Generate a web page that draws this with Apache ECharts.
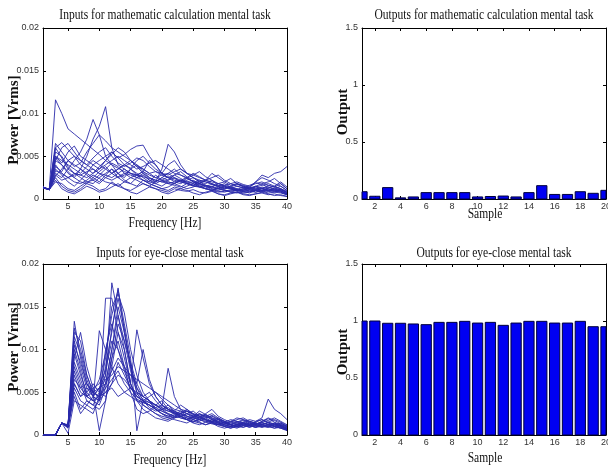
<!DOCTYPE html>
<html><head><meta charset="utf-8">
<script src="https://cdn.jsdelivr.net/npm/echarts@6/dist/echarts.min.js"></script>
<style>html,body{margin:0;padding:0;background:#fff}#c{width:608px;height:467px}</style>
</head><body><div id="c"></div>
<script>
// ---- data ----
const FREQ = [1,2,3,4,5,6,7,8,9,10,11,12,13,14,15,16,17,18,19,20,21,22,23,24,25,26,27,28,29,30,31,32,33,34,35,36,37,38,39,40];
const SAMPLES = [1,2,3,4,5,6,7,8,9,10,11,12,13,14,15,16,17,18,19,20];
const FREQ_TICKS = [5,10,15,20,25,30,35,40];
const SAMPLE_TICKS = [2,4,6,8,10,12,14,16,18,20];
const UNIT = 1e-4; // input powers below are written in units of 0.0001 Vrms

const MATH_INPUTS = [
 [14,11,116,100,82,76,70,64,58,52,45,40,36,32,30,28,26,24,22,20,22,25,20,18,16,18,15,13,12,14,12,10,11,13,12,10,9,11,10,6],
 [14,11,40,30,25,28,35,50,70,85,108,60,40,35,30,28,32,25,22,20,18,20,22,18,15,14,16,12,10,12,14,11,9,10,12,13,10,9,8,5],
 [13,11,30,25,35,45,55,70,93,75,50,40,30,25,35,30,25,20,28,22,18,16,14,18,20,16,12,10,14,11,8,10,12,9,8,10,11,9,12,7],
 [14,11,50,45,40,35,30,38,45,40,35,30,35,40,45,38,30,25,20,35,64,55,40,30,25,20,18,22,16,14,12,15,13,11,10,12,14,11,9,6],
 [14,11,65,55,45,38,42,55,65,75,68,60,55,50,45,40,35,30,32,28,25,22,20,24,21,18,15,17,14,12,13,10,12,14,11,9,12,10,11,8],
 [13,11,45,40,30,25,35,30,40,45,50,55,48,52,58,62,63,50,40,30,25,28,24,20,22,18,16,14,18,15,13,11,10,12,14,12,10,13,11,7],
 [14,11,60,48,35,30,28,25,30,35,40,45,50,45,40,35,38,42,45,40,35,30,28,25,30,26,22,20,18,16,14,17,15,13,20,25,22,18,15,10],
 [14,11,25,15,10,8,12,18,15,10,12,20,15,12,10,14,18,15,12,10,8,12,10,9,11,8,7,9,6,5,7,8,6,5,6,7,5,6,4,3],
 [13,11,35,28,20,15,22,30,25,20,28,35,30,22,18,25,30,22,18,15,20,18,15,12,14,17,14,11,9,8,10,12,9,7,10,12,9,8,7,5],
 [14,11,55,50,38,30,25,20,22,28,35,42,38,30,25,28,32,45,40,30,25,20,18,22,25,20,16,14,12,10,9,11,14,12,10,8,10,12,9,6],
 [14,11,28,22,25,30,28,32,35,30,25,22,26,30,28,25,22,20,18,22,26,24,20,18,16,20,22,18,15,13,15,18,16,14,20,28,25,30,32,38],
 [14,11,20,18,12,10,15,20,18,25,30,35,25,20,18,15,22,18,15,12,10,14,12,15,18,14,12,10,8,9,11,10,8,9,11,14,12,10,8,5],
 [13,11,48,40,32,25,20,18,25,32,38,30,25,28,35,40,32,28,25,22,20,18,22,19,16,14,12,15,12,10,8,7,9,11,8,10,13,15,12,9],
 [14,11,38,32,45,50,40,35,30,38,45,52,60,55,45,38,35,30,25,28,30,25,22,20,18,22,20,17,15,18,14,12,10,13,15,12,16,14,12,8],
 [14,11,33,30,25,20,18,22,28,24,20,18,15,20,25,22,18,15,20,25,22,28,32,26,20,18,22,30,25,20,16,18,14,12,15,18,20,24,18,12],
 [13,11,45,60,65,55,45,40,35,30,28,25,30,35,30,25,28,22,20,25,30,35,28,24,28,32,26,22,18,20,24,18,15,12,14,16,18,15,20,14],
 [14,11,27,35,45,40,35,28,22,18,25,30,35,40,35,28,22,18,15,12,14,18,22,25,20,15,12,10,12,15,12,9,7,8,10,9,7,8,10,6],
 [14,11,60,66,58,50,45,40,48,55,60,50,42,38,42,48,45,38,32,30,28,32,35,30,25,22,20,18,15,16,18,15,13,16,19,17,14,12,15,10],
 [13,11,22,12,8,6,10,15,12,8,10,14,18,12,8,6,10,14,12,8,6,9,12,10,7,5,8,10,6,4,6,8,5,4,6,8,6,4,5,3],
 [14,11,50,42,55,62,50,45,40,35,45,55,48,40,36,45,50,42,35,30,40,45,35,30,28,25,22,25,28,22,18,20,17,15,18,20,16,14,18,12]
];

const EYE_INPUTS = [
 [0,0,0,14,10,133,90,60,45,55,70,178,140,100,60,45,40,35,30,28,25,22,20,18,22,25,20,16,14,12,10,12,14,11,9,12,14,10,8,6],
 [0,0,0,14,10,120,110,70,50,45,80,120,172,120,80,55,40,32,28,30,35,28,22,20,18,16,20,22,18,14,12,10,13,16,14,12,10,13,11,8],
 [0,0,0,14,11,100,75,45,40,122,100,80,60,50,45,40,38,35,30,25,22,20,25,28,24,20,18,15,12,10,14,16,13,11,9,10,12,14,10,7],
 [0,0,0,14,9,90,120,80,55,40,160,160,120,90,60,40,35,30,25,20,18,22,25,20,16,14,12,15,18,14,10,8,11,14,12,10,9,12,10,6],
 [0,0,0,14,10,80,60,40,35,50,90,150,165,143,100,70,50,40,35,30,28,25,22,25,28,22,18,16,20,16,12,14,17,15,12,16,20,17,13,9],
 [0,0,0,14,12,70,50,45,55,60,75,110,100,80,60,123,90,60,45,35,30,26,22,18,20,24,22,18,15,12,16,14,12,10,13,15,12,10,14,10],
 [0,0,0,14,8,60,45,50,40,35,55,90,130,110,85,60,45,50,40,32,78,45,30,25,22,28,24,20,16,14,12,10,14,12,16,18,15,12,10,7],
 [0,0,0,14,10,55,40,35,45,55,65,70,80,75,70,65,60,55,50,45,40,35,30,28,25,22,24,20,18,16,14,12,15,18,16,20,42,30,25,18],
 [0,0,0,14,11,110,80,55,45,40,60,100,150,120,80,50,35,30,25,22,20,24,28,22,18,15,12,14,10,8,10,12,9,11,14,12,10,8,11,7],
 [0,0,0,14,10,95,70,50,60,50,45,60,85,70,55,45,40,45,50,42,35,30,28,25,22,20,25,30,22,18,15,18,20,16,13,15,17,20,16,12],
 [0,0,0,14,9,50,30,40,35,30,40,80,120,100,60,40,30,25,20,18,16,20,22,18,14,12,15,18,14,10,8,10,12,9,11,14,12,10,8,5],
 [0,0,0,14,10,65,55,60,50,45,50,55,45,50,55,50,45,40,35,30,32,28,25,22,20,18,16,14,12,15,12,10,13,11,9,12,10,8,9,6],
 [0,0,0,14,11,125,100,70,50,5,40,90,110,80,50,30,25,28,35,40,30,25,20,18,15,18,22,25,20,16,12,9,11,14,12,9,11,14,12,8],
 [0,0,0,14,10,85,65,45,50,65,95,140,170,130,90,5,40,35,30,25,20,18,16,14,18,22,18,15,12,10,8,11,14,12,15,18,14,11,9,6],
 [0,0,0,14,10,45,25,35,30,40,50,60,70,65,55,48,42,38,35,32,28,26,24,22,20,25,22,18,16,14,12,15,18,16,14,12,15,18,15,11],
 [0,0,0,14,9,105,85,60,50,45,100,130,100,75,55,45,40,38,32,28,24,20,22,25,20,18,15,13,12,15,18,16,14,12,10,12,15,13,11,8],
 [0,0,0,14,10,75,55,45,40,45,55,65,75,60,50,42,38,35,32,35,30,27,25,28,22,18,20,23,19,15,12,10,9,12,14,11,9,12,14,10],
 [0,0,0,14,11,60,45,55,50,55,60,75,90,80,70,60,100,65,45,35,30,28,35,30,25,22,18,16,14,12,10,13,11,9,12,14,12,10,12,7],
 [0,0,0,14,10,115,95,65,45,40,70,125,160,125,80,55,45,40,35,30,25,22,26,30,24,20,17,15,13,11,9,12,15,13,11,9,12,10,8,6],
 [0,0,0,14,2,40,35,30,25,45,60,100,140,110,75,50,45,40,30,25,22,26,22,18,15,20,23,19,15,13,16,20,18,14,12,16,19,15,12,10]
];

const MATH_OUTPUTS = [0.064,0.024,0.1,0.01,0.018,0.056,0.056,0.056,0.056,0.018,0.022,0.026,0.018,0.056,0.117,0.04,0.04,0.064,0.05,0.076];
const EYE_OUTPUTS = [1.0,1.0,0.98,0.98,0.974,0.968,0.988,0.988,0.997,0.982,0.988,0.962,0.982,0.997,0.997,0.982,0.982,0.997,0.95,0.95];

const TITLES = ['Inputs for mathematic calculation mental task','Outputs for mathematic calculation mental task','Inputs for eye-close mental task','Outputs for eye-close mental task'];

// ---- chart ----
const chart = echarts.init(document.getElementById('c'), null, {renderer:'canvas'});
const grids = [
  {left:43, top:28, width:244, height:171, outerBoundsMode:'none', containLabel:false},
  {left:362, top:28, width:244, height:171, outerBoundsMode:'none', containLabel:false},
  {left:43, top:264, width:244, height:171, outerBoundsMode:'none', containLabel:false},
  {left:362, top:264, width:244, height:171, outerBoundsMode:'none', containLabel:false}
];
const tickFont = {fontFamily:"'Liberation Sans Narrow','Arial Narrow','Liberation Sans',Arial,sans-serif", fontSize:9, color:'#333'};
const axLine = {onZero:false, lineStyle:{color:'#000', width:1}};

function xAx(g, isLine, pos) {
  const ticks = isLine ? FREQ_TICKS : SAMPLE_TICKS;
  return {type:'value', gridIndex:g, position:pos, min:1, max:isLine?40:20,
    axisLine:axLine,
    axisTick:{inside:true, length:3, customValues:ticks, lineStyle:{color:'#000'}},
    axisLabel:Object.assign({show:pos==='bottom', customValues:ticks, margin:3, hideOverlap:false}, tickFont),
    splitLine:{show:false}};
}
function yAx(g, isLine, pos) {
  return {type:'value', gridIndex:g, position:pos, min:0, max:isLine?0.02:1.5, interval:isLine?0.005:0.5,
    axisLine:axLine,
    axisTick:{inside:true, length:3, lineStyle:{color:'#000'}},
    axisLabel:Object.assign({show:pos==='left', margin:4}, tickFont),
    splitLine:{show:false}};
}
const isLineGrid = [true,false,true,false];
const xAxis = [], yAxis = [];
for (let g=0; g<4; g++) { xAxis.push(xAx(g,isLineGrid[g],'bottom')); yAxis.push(yAx(g,isLineGrid[g],'left')); }
for (let g=0; g<4; g++) { xAxis.push(xAx(g,isLineGrid[g],'top')); yAxis.push(yAx(g,isLineGrid[g],'right')); }

const series = [];
function addLines(rows, g) {
  rows.forEach(row => series.push({type:'line', xAxisIndex:g, yAxisIndex:g, symbol:'none', silent:true,
    data: row.map((v,j)=>[FREQ[j], v*UNIT]), lineStyle:{color:'#2a2aaa', width:0.9}}));
}
const BAR_HALF = 0.4; // bar half-width in sample units (MATLAB default bar width 0.8)
function barItem(params, api) {
  const x = api.value(0), y = api.value(1);
  const p0 = api.coord([x - BAR_HALF, y]);
  const p1 = api.coord([x + BAR_HALF, 0]);
  const cs = params.coordSys;
  const rect = echarts.graphic.clipRectByRect(
    {x:p0[0], y:p0[1], width:p1[0]-p0[0], height:p1[1]-p0[1]},
    {x:cs.x, y:cs.y, width:cs.width, height:cs.height});
  return rect && {type:'rect', shape:rect, style:{fill:'#0000f2', stroke:'#00003c', lineWidth:1}};
}
function addBars(vals, g) {
  series.push({type:'custom', xAxisIndex:g, yAxisIndex:g, silent:true, renderItem:barItem,
    encode:{x:0, y:1},
    data: vals.map((v,j)=>[SAMPLES[j], v])});
}
addLines(MATH_INPUTS, 0); addBars(MATH_OUTPUTS, 1); addLines(EYE_INPUTS, 2); addBars(EYE_OUTPUTS, 3);

const serif = '"Liberation Serif","Times New Roman",serif';
function htext(t, x, y) {
  return {type:'text', x:x, y:y, scaleX:0.77, silent:true,
    style:{text:t, fill:'#111', font:'15px '+serif, textAlign:'center', textVerticalAlign:'middle'}};
}
function vtext(t, x, y) {
  return {type:'text', x:x, y:y, rotation:Math.PI/2, silent:true,
    style:{text:t, fill:'#111', font:'bold 15px '+serif, textAlign:'center', textVerticalAlign:'middle'}};
}
const graphic = [
  htext(TITLES[0],165,15), htext(TITLES[1],484,15), htext(TITLES[2],170,253), htext(TITLES[3],494,253),
  htext('Frequency [Hz]',165,223), htext('Frequency [Hz]',170,460),
  htext('Sample',485,214), htext('Sample',485,458),
  vtext('Power [Vrms]',14,120), vtext('Power [Vrms]',14,347),
  vtext('Output',343,112), vtext('Output',343,352)
];

chart.setOption({animation:false, backgroundColor:'#fff', grid:grids, xAxis:xAxis, yAxis:yAxis, series:series, graphic:graphic});
</script></body></html>
